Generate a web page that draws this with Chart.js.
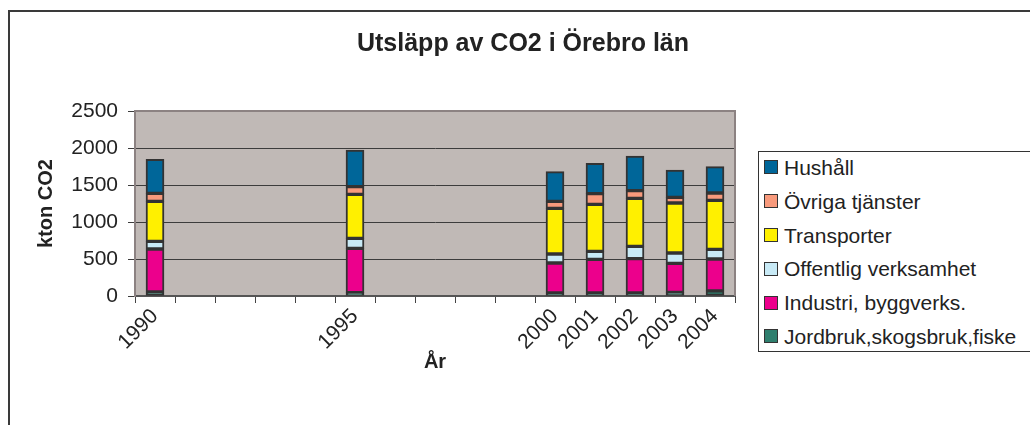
<!DOCTYPE html>
<html>
<head>
<meta charset="utf-8">
<script src="https://cdn.jsdelivr.net/npm/chart.js@4.4.1/dist/chart.umd.min.js"></script>
<style>
    html, body { margin: 0; padding: 0; background: #fff; overflow: hidden; }
    #wrap { position: relative; width: 1030px; height: 425px; font-family: "Liberation Sans", Arial, sans-serif; color: #222; }
    #frame { position: absolute; left: 8px; top: 10px; width: 1100px; height: 500px; border-left: 2px solid #3a3a3a; border-top: 2px solid #3a3a3a; }
    canvas { position: absolute; left: 0; top: 0; }
    #title { position: absolute; top: 27px; left: 8px; width: 1030px; text-align: center; font-weight: bold; font-size: 25px; line-height: 30px; }
    #legend { position: absolute; left: 758px; top: 151px; width: 300px; height: 199px; border: 1px solid #333; background: #fff; }
    .item { position: absolute; left: 5px; height: 24px; line-height: 24px; font-size: 21px; white-space: nowrap; }
    .sw { display: inline-block; width: 12px; height: 12px; border: 1.5px solid #333; vertical-align: middle; margin-right: 6px; position: relative; top: -2px; }
</style>
</head>
<body>
<div id="wrap">
    <div id="frame"></div>
    <canvas id="co2Chart" width="1030" height="425"></canvas>
    <div id="title">Utsläpp av CO2 i Örebro län</div>
    <div id="legend"></div>
</div>
<script>
// All years on the category axis, and the ones that have data
const years = ['1990', '1991', '1992', '1993', '1994', '1995', '1996', '1997', '1998', '1999', '2000', '2001', '2002', '2003', '2004'];
const dataYears = ['1990', '1995', '2000', '2001', '2002', '2003', '2004'];

// kton CO2 per sector, one value per data year
const jordbruk = [54, 45, 40, 40, 40, 50, 70];
const industri = [581, 599, 406, 455, 464, 391, 430];
const offentlig = [104, 135, 121, 109, 167, 140, 130];
const transporter = [540, 595, 618, 635, 649, 676, 663];
const ovriga = [108, 103, 94, 144, 103, 76, 99];
const hushall = [460, 496, 401, 410, 469, 370, 356];

const yTicks = [0, 500, 1000, 1500, 2000, 2500];

const FONT = '"Liberation Sans", Arial, sans-serif';

// put the values on the full year axis, empty years get null
function spread(values) {
    return years.map(y => {
        const i = dataYears.indexOf(y);
        return i < 0 ? null : values[i];
    });
}

const series = [
    { label: 'Jordbruk,skogsbruk,fiske', data: jordbruk, color: '#2f7f6e' },
    { label: 'Industri, byggverks.', data: industri, color: '#ec008c' },
    { label: 'Offentlig verksamhet', data: offentlig, color: '#c8eaf6' },
    { label: 'Transporter', data: transporter, color: '#fff000' },
    { label: 'Övriga tjänster', data: ovriga, color: '#f89a7c' },
    { label: 'Hushåll', data: hushall, color: '#006699' }
];

// plot area background and top/right frame
const plotBg = {
    id: 'plotBg',
    beforeDraw(chart) {
        const { ctx, chartArea: a } = chart;
        ctx.save();
        ctx.fillStyle = '#c0b9b6';
        ctx.fillRect(a.left, a.top, a.width, a.height);
        ctx.restore();
    },
    afterDraw(chart) {
        const { ctx, chartArea: a } = chart;
        ctx.save();
        ctx.strokeStyle = '#8c8282';
        ctx.lineWidth = 2;
        ctx.beginPath();
        ctx.moveTo(a.left, a.top);
        ctx.lineTo(a.right, a.top);
        ctx.lineTo(a.right, a.bottom);
        ctx.stroke();
        ctx.restore();
    }
};

const ctx = document.getElementById('co2Chart').getContext('2d');
new Chart(ctx, {
    type: 'bar',
    data: {
        labels: years,
        datasets: series.map(s => ({
            label: s.label,
            data: spread(s.data),
            backgroundColor: s.color,
            borderColor: '#333',
            borderWidth: 2,
            borderSkipped: false,
            barThickness: 18
        }))
    },
    options: {
        responsive: false,
        animation: false,
        layout: { padding: { left: 20, top: 111, right: 295, bottom: 51 } },
        plugins: {
            legend: { display: false },
            title: { display: false },
            tooltip: { enabled: false }
        },
        scales: {
            x: {
                stacked: true,
                offset: true,
                grid: { offset: true, drawOnChartArea: false, tickLength: 7, color: '#444' },
                border: { color: '#555', width: 2 },
                ticks: {
                    autoSkip: false,
                    maxRotation: 45,
                    minRotation: 45,
                    padding: 1,
                    color: '#222',
                    font: { family: FONT, size: 21 },
                    callback: function(value, index) {
                        return dataYears.includes(years[index]) ? years[index] : '';
                    }
                },
                title: { display: true, text: 'År', color: '#222', padding: 0, font: { family: FONT, size: 20, weight: 'bold' } },
                afterFit: function(scale) { scale.height = 78; }
            },
            y: {
                stacked: true,
                min: 0,
                max: 2500,
                afterBuildTicks: function(scale) { scale.ticks = yTicks.map(v => ({ value: v })); },
                grid: { color: '#3c3c3c', tickLength: 7 },
                border: { color: '#8c8282', width: 2 },
                ticks: {
                    padding: 10,
                    color: '#222',
                    font: { family: FONT, size: 21 },
                    callback: function(value) { return String(value); }
                },
                title: { display: true, text: 'kton CO2', color: '#222', padding: { top: 14, bottom: 0 }, font: { family: FONT, size: 20, weight: 'bold' } },
                afterFit: function(scale) { scale.width = 115; }
            }
        }
    },
    plugins: [plotBg]
});

// legend, top item is the top of the stack
const legend = document.getElementById('legend');
series.slice().reverse().forEach((s, i) => {
    const item = document.createElement('div');
    item.className = 'item';
    item.style.top = (4 + i * 33.8) + 'px';
    item.innerHTML = '<span class="sw" style="background:' + s.color + '"></span>' + s.label;
    legend.appendChild(item);
});
</script>
</body>
</html>
